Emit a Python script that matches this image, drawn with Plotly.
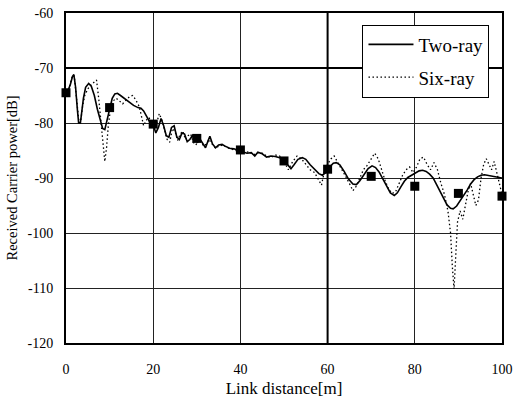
import plotly.graph_objects as go

# Two-ray (solid)
two_x = [0, 0.5, 1.0, 1.5, 1.8, 2.2, 2.6, 2.9, 3.3, 3.6, 4.0, 4.5, 5.2, 5.8, 6.5, 7.2, 7.8, 8.4, 8.9, 9.4,
         10.0, 10.6, 11.2, 11.8, 12.5, 13.5, 14.5, 15.5, 16.5, 17.2, 17.8, 18.5, 19.2, 20.0, 20.6, 21.2, 21.8,
         22.4, 23.0, 23.6, 24.2, 24.8, 25.4, 26.0, 26.6, 27.2, 27.8, 28.4, 29.0, 29.6, 30.2, 30.8, 31.4, 32.0,
         32.6, 33.0, 33.6, 34.3, 35.0, 35.8, 36.5, 37.5, 38.5, 39.5, 40.5, 41.5, 42.5, 43.3, 44.0, 45.0, 46.0,
         47.0, 48.0, 49.0, 50.2, 51.0, 51.6, 52.3, 53.2, 54.2, 55.0, 56.0, 57.0, 58.0, 58.8, 59.6, 60.5, 61.3,
         62.0, 62.8, 63.8, 64.8, 65.8, 66.6, 67.4, 68.4, 69.3, 70.2, 71.0, 71.8, 72.6, 73.5, 74.4, 75.3, 76.0,
         76.8, 77.6, 78.4, 79.3, 80.2, 81.0, 81.8, 82.6, 83.4, 84.2, 85.0, 85.8, 86.6, 87.4, 88.2, 88.8, 89.6,
         90.4, 91.2, 92.0, 92.8, 93.6, 94.4, 95.2, 96.0, 96.8, 97.6, 98.4, 99.2, 100]
two_y = [-74.5, -74.0, -73.0, -71.5, -71.2, -73.5, -77.5, -80.0, -80.0, -78.0, -75.5, -73.5, -72.8, -73.3, -75.0,
         -77.5, -79.5, -81.0, -81.2, -79.5, -77.2, -75.5, -74.7, -74.6, -75.0, -75.6, -76.2, -76.8, -77.2, -77.3,
         -77.8, -78.7, -79.8, -80.3, -81.8, -80.8, -79.2, -80.5, -82.3, -82.6, -80.8, -80.5, -82.5, -83.0, -81.8,
         -82.0, -83.4, -83.0, -82.3, -83.2, -83.5, -83.0, -83.8, -84.5, -83.2, -82.4, -83.8, -84.5, -84.0, -83.9,
         -84.2, -84.6, -84.7, -85.0, -85.2, -85.5, -85.4, -86.0, -85.3, -85.6, -86.2, -86.0, -86.1, -86.3, -87.0,
         -87.8, -88.3, -87.6, -86.6, -86.3, -86.6, -87.6, -88.4, -89.2, -89.5, -89.0, -88.0, -87.3, -87.2, -87.6,
         -88.8, -90.2, -91.1, -91.2, -90.5, -89.3, -88.3, -87.8, -88.1, -88.9, -90.0, -91.5, -92.7, -93.2, -92.7,
         -91.6, -90.6, -89.9, -89.5, -89.1, -88.7, -88.6, -88.8, -89.3, -90.0, -91.2, -92.5, -93.8, -94.9, -95.5,
         -95.6, -95.1, -94.2, -93.3, -92.2, -91.1, -90.3, -89.8, -89.5, -89.4, -89.5, -89.6, -89.7, -89.9, -90.0]

# Six-ray (dotted)
six_x = [0, 0.5, 1.0, 1.5, 1.9, 2.3, 2.7, 3.0, 3.4, 3.8, 4.3, 5.0, 5.8, 6.5, 7.0, 7.5, 8.0, 8.5, 8.9, 9.3, 9.7,
         10.2, 10.8, 11.5, 12.2, 13.0, 13.8, 14.6, 15.3, 16.0, 16.8, 17.4, 17.8, 18.4, 19.0, 19.6, 20.2, 20.8,
         21.4, 22.0, 22.6, 23.2, 23.8, 24.4, 25.0, 25.6, 26.2, 26.8, 27.4, 28.0, 28.6, 29.2, 29.8, 30.4, 31.0,
         31.6, 32.2, 32.8, 33.5, 34.3, 35.0, 36.0, 37.0, 38.0, 39.0, 40.0, 41.0, 42.0, 43.0, 44.0, 45, 46, 47,
         48, 49, 50, 51, 52, 53, 54, 55, 56, 57, 58, 58.6, 59.2, 60, 60.8, 61.5, 62.2, 63, 64, 65, 65.8, 66.6,
         67.4, 68.2, 69, 70, 70.8, 71.6, 72.4, 73.2, 74, 74.8, 75.6, 76.4, 77.2, 78, 78.8, 79.6, 80.4, 81.2, 82,
         82.8, 83.6, 84.4, 85.2, 86, 86.8, 87.6, 88.2, 88.6, 89.0, 89.4, 89.8, 90.4, 91.0, 91.6, 92.2, 92.8,
         93.4, 94.0, 94.6, 95.2, 95.8, 96.4, 97.0, 97.6, 98.2, 98.8, 99.4, 100]
six_y = [-74.5, -74.2, -72.8, -71.3, -71.5, -74.5, -78.5, -80.0, -79.5, -77.0, -75.0, -73.8, -73.0, -72.5, -72.2,
         -75.5, -79.5, -84.0, -87.0, -84.5, -80.5, -77.5, -76.0, -75.5, -76.0, -76.5, -75.8, -75.2, -75.0, -75.8,
         -77.0, -79.5, -80.5, -79.5, -79.0, -79.8, -80.8, -80.0, -78.3, -79.5, -81.5, -83.0, -83.5, -81.0, -81.5,
         -83.2, -82.0, -81.5, -83.0, -82.3, -82.0, -83.5, -84.0, -83.0, -83.5, -84.2, -83.8, -83.0, -83.8, -84.6,
         -84.2, -84.0, -84.5, -84.8, -85.0, -85.0, -85.4, -85.2, -85.8, -85.4, -85.5, -86.0, -86.3, -85.8, -86.0,
         -87.0, -88.5, -87.0, -86.0, -86.5, -87.5, -88.5, -89.0, -90.5, -91.3, -89.0, -87.5, -86.5, -86.0, -87.0,
         -88.0, -89.5, -91.0, -92.3, -91.5, -90.0, -88.5, -87.8, -86.5, -85.5, -86.5, -88.5, -90.5, -92.0, -92.8,
         -92.5, -91.0, -89.5, -88.5, -88.0, -89.0, -88.0, -86.5, -86.2, -87.5, -88.5, -87.2, -88.5, -91.0, -93.0,
         -96.0, -100.0, -106.0, -110.2, -104.0, -98.0, -96.0, -97.5, -95.0, -92.5, -91.0, -93.0, -95.0, -94.0,
         -90.0, -87.5, -86.5, -87.5, -88.5, -87.0, -89.0, -91.5, -93.0]

# Square markers
mark_x = [0, 10, 20, 30, 40, 50, 60, 70, 80, 90, 100]
mark_y = [-74.5, -77.2, -80.2, -82.8, -84.9, -86.9, -88.4, -89.7, -91.5, -92.8, -93.3]

x_ticks = [0, 20, 40, 60, 80, 100]
y_ticks = [-60, -70, -80, -90, -100, -110, -120]

serif = "Liberation Serif, Times New Roman, serif"

fig = go.Figure()
fig.add_trace(go.Scatter(x=two_x, y=two_y, mode="lines", name="Two-ray", legendgroup="a",
                         line=dict(color="black", width=1.6)))
fig.add_trace(go.Scatter(x=six_x, y=six_y, mode="lines", name="Six-ray", legendgroup="b",
                         line=dict(color="black", width=1.3, dash="1.5px,2.5px")))
fig.add_trace(go.Scatter(x=mark_x, y=mark_y, mode="markers", showlegend=False,
                         marker=dict(symbol="square", size=9, color="black"), cliponaxis=False))

# heavier grid lines seen in the scan
fig.add_shape(type="line", xref="x", yref="paper", x0=60, x1=60, y0=0, y1=1,
              line=dict(color="black", width=2))
fig.add_shape(type="line", xref="paper", yref="y", x0=0, x1=1, y0=-70, y1=-70,
              line=dict(color="black", width=2))

fig.update_layout(
    width=519, height=403,
    margin=dict(l=66, r=13, t=6, b=60),
    paper_bgcolor="white", plot_bgcolor="white",
    font=dict(family=serif, color="black", size=13),
    showlegend=True,
    legend=dict(x=0.68, y=0.965, xanchor="left", yanchor="top",
                bgcolor="white", bordercolor="black", borderwidth=1,
                font=dict(family=serif, size=19, color="black"),
                tracegroupgap=5, itemwidth=45),
)
fig.update_xaxes(range=[0, 100], tickvals=x_ticks, ticktext=[str(v) for v in x_ticks],
                 showline=True, linecolor="black", linewidth=2, mirror=True,
                 showgrid=True, gridcolor="#222", gridwidth=1, zeroline=False,
                 ticks="", ticklabelstandoff=12,
                 tickfont=dict(family=serif, size=14, color="black"),
                 title=dict(text="Link distance[m]", font=dict(family=serif, size=17), standoff=6))
fig.update_yaxes(range=[-120, -60], tickvals=y_ticks, ticktext=[str(v) for v in y_ticks],
                 showline=True, linecolor="black", linewidth=2, mirror=True,
                 showgrid=True, gridcolor="#222", gridwidth=1, zeroline=False,
                 ticks="", ticklabelstandoff=8,
                 tickfont=dict(family=serif, size=14, color="black"),
                 title=dict(text="Received Carrier power[dB]", font=dict(family=serif, size=14.5), standoff=6))

fig.write_html("out.html")
